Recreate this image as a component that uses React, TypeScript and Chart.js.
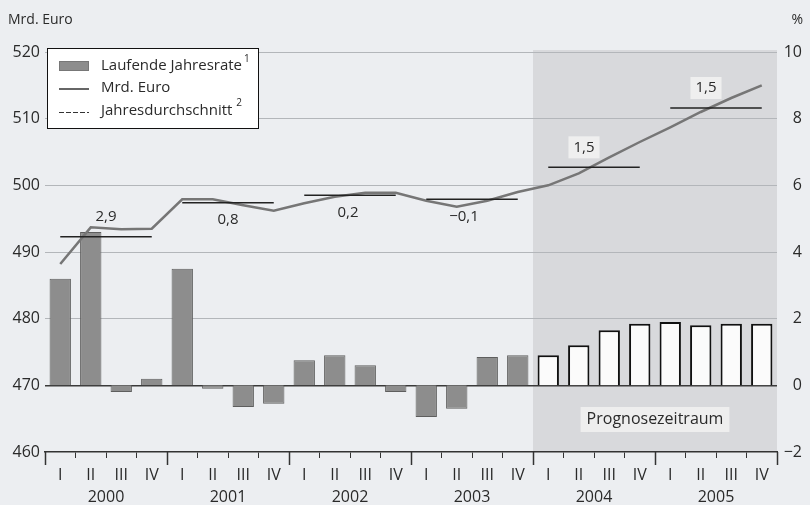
import React, { useEffect, useRef } from "react";
import { Chart, registerables } from "chart.js";

Chart.register(...registerables);

// ---------- data ----------
const quarterLabels = [
  "I", "II", "III", "IV",
  "I", "II", "III", "IV",
  "I", "II", "III", "IV",
  "I", "II", "III", "IV",
  "I", "II", "III", "IV",
  "I", "II", "III", "IV",
];
const yearLabels = ["2000", "2001", "2002", "2003", "2004", "2005"];

// Mrd. Euro (left axis)
const gdpLevel = [
  488.2, 493.7, 493.4, 493.5,
  497.9, 497.9, 497.0, 496.2,
  497.3, 498.3, 498.9, 498.9,
  497.7, 496.8, 497.7, 499.0,
  500.0, 501.8, 504.2, 506.5,
  508.7, 511.0, 513.1, 515.0,
];

// Laufende Jahresrate in % (right axis)
const annualRate = [
  3.2, 4.6, -0.2, 0.2,
  3.5, -0.1, -0.65, -0.55,
  0.75, 0.9, 0.6, -0.2,
  -0.95, -0.7, 0.85, 0.9,
  0.9, 1.2, 1.65, 1.85,
  1.9, 1.8, 1.85, 1.85,
];

// Jahresdurchschnitt (Mrd. Euro) and its growth labels
const annualAverage = [492.3, 497.4, 498.5, 497.9, 502.7, 511.6];
const annualGrowthLabels = ["2,9", "0,8", "0,2", "\u22120,1", "1,5", "1,5"];
const annualLabelSide = ["above", "below", "below", "below", "above", "above"];

const forecastStartIndex = 16;

const leftTicks = [460, 470, 480, 490, 500, 510, 520];
const rightTicks = [-2, 0, 2, 4, 6, 8, 10];

// ---------- styles ----------
const FONT = "'Open Sans', 'DejaVu Sans', sans-serif";
const TEXT = "#2a2a2a";
const BG = "#eceef1";
const SHADE = "#d8d9dc";
const labelDx = [0, 0, -2, -8, -10, -10];

const avgSeries = quarterLabels.map((_, i) => annualAverage[Math.floor(i / 4)]);

const decorPlugin = {
  id: "decor",
  beforeDraw(chart: any) {
    const { ctx, chartArea, scales } = chart;
    ctx.save();
    ctx.fillStyle = BG;
    ctx.fillRect(0, 0, chart.width, chart.height);
    const x = scales.x;
    const n = quarterLabels.length;
    const step = (x.right - x.left) / n;
    const fx = x.left + step * forecastStartIndex;
    ctx.fillStyle = SHADE;
    ctx.fillRect(fx, chartArea.top - 2, chartArea.right - fx, chartArea.bottom - chartArea.top + 2);
    ctx.restore();
  },
  afterDatasetsDraw(chart: any) {
    const { ctx, chartArea, scales } = chart;
    const x2 = scales.x2;
    const y = scales.y;
    ctx.save();
    // annual average labels
    ctx.font = `15px ${FONT}`;
    ctx.textAlign = "center";
    ctx.textBaseline = "middle";
    annualGrowthLabels.forEach((lbl, k) => {
      const px = x2.getPixelForValue(k) + labelDx[k];
      const py = y.getPixelForValue(annualAverage[k]) + (annualLabelSide[k] === "above" ? -20 : 17);
      if (k >= forecastStartIndex / 4) {
        const w = ctx.measureText(lbl).width + 10;
        ctx.fillStyle = "#efefef";
        ctx.fillRect(px - w / 2, py - 11, w, 22);
      }
      ctx.fillStyle = TEXT;
      ctx.fillText(lbl, px, py);
    });

    // Prognosezeitraum label
    const x = scales.x;
    const step = (x.right - x.left) / quarterLabels.length;
    const fx = x.left + step * forecastStartIndex;
    const cx = (fx + chartArea.right) / 2;
    const cy = chartArea.bottom - 33;
    ctx.font = `16px ${FONT}`;
    const tw = ctx.measureText("Prognosezeitraum").width + 12;
    ctx.fillStyle = "#eeeeee";
    ctx.fillRect(cx - tw / 2, cy - 12, tw, 25);
    ctx.fillStyle = TEXT;
    ctx.fillText("Prognosezeitraum", cx, cy);

    // legend
    const lx = chartArea.left + 2;
    const ly = chartArea.top - 4;
    ctx.fillStyle = "#ffffff";
    ctx.fillRect(lx, ly, 211, 80);
    ctx.strokeStyle = "#111";
    ctx.lineWidth = 1;
    ctx.strokeRect(lx + 0.5, ly + 0.5, 211, 80);
    ctx.fillStyle = "#8d8d8d";
    ctx.fillRect(lx + 12, ly + 13, 30, 10);
    ctx.strokeStyle = "#777";
    ctx.strokeRect(lx + 12.5, ly + 13.5, 29, 9);
    ctx.strokeStyle = "#666";
    ctx.lineWidth = 2;
    ctx.beginPath();
    ctx.moveTo(lx + 12, ly + 41);
    ctx.lineTo(lx + 42, ly + 41);
    ctx.stroke();
    ctx.strokeStyle = "#333";
    ctx.lineWidth = 1;
    ctx.setLineDash([5, 2]);
    ctx.beginPath();
    ctx.moveTo(lx + 12, ly + 64.5);
    ctx.lineTo(lx + 42, ly + 64.5);
    ctx.stroke();
    ctx.setLineDash([]);
    ctx.fillStyle = TEXT;
    ctx.textAlign = "left";
    ctx.font = `15px ${FONT}`;
    const t1 = "Laufende Jahresrate";
    const t3 = "Jahresdurchschnitt";
    ctx.fillText(t1, lx + 54, ly + 18);
    ctx.fillText("Mrd. Euro", lx + 54, ly + 40);
    ctx.fillText(t3, lx + 54, ly + 63);
    const w1 = ctx.measureText(t1).width;
    const w3 = ctx.measureText(t3).width;
    ctx.font = `10px ${FONT}`;
    ctx.fillText("1", lx + 56 + w1, ly + 11);
    ctx.fillText("2", lx + 58 + w3, ly + 55);

    // axis titles
    ctx.font = `14px ${FONT}`;
    ctx.textAlign = "left";
    ctx.fillText("Mrd. Euro", 8, 20);
    ctx.textAlign = "right";
    ctx.fillText("%", 803, 20);
    ctx.restore();
  },
  afterDraw(chart: any) {
    const { ctx, chartArea } = chart;
    ctx.save();
    ctx.strokeStyle = "#333";
    ctx.lineWidth = 1.5;
    for (let k = 0; k <= yearLabels.length; k++) {
      const px = Math.round(chartArea.left + ((chartArea.right - chartArea.left) * k) / yearLabels.length) + 0.5;
      ctx.beginPath();
      ctx.moveTo(px, chartArea.bottom);
      ctx.lineTo(px, chartArea.bottom + 13);
      ctx.stroke();
    }
    ctx.restore();
  },
};

export default function App() {
  const ref = useRef<HTMLCanvasElement | null>(null);

  useEffect(() => {
    if (!ref.current) return;
    const chart = new Chart(ref.current, {
      data: {
        labels: quarterLabels,
        datasets: [
          {
            type: "line",
            label: "Mrd. Euro",
            data: gdpLevel,
            yAxisID: "y",
            xAxisID: "x",
            borderColor: "#767676",
            borderWidth: 2.5,
            pointRadius: 0,
            tension: 0,
            order: 1,
          },
          {
            type: "line",
            label: "Jahresdurchschnitt",
            data: avgSeries,
            yAxisID: "y",
            xAxisID: "x",
            borderColor: "#222",
            borderWidth: 1.5,
            pointRadius: 0,
            tension: 0,
            order: 0,
            segment: {
              borderColor: (c: any) => (c.p0DataIndex % 4 === 3 ? "rgba(0,0,0,0)" : "#222"),
            },
          },
          {
            type: "bar",
            label: "Laufende Jahresrate",
            data: annualRate,
            yAxisID: "y1",
            xAxisID: "x",
            backgroundColor: annualRate.map((_, i) => (i >= forecastStartIndex ? "#fbfbfb" : "#8d8d8d")),
            borderColor: annualRate.map((_, i) => (i >= forecastStartIndex ? "#111" : "#5e5e5e")),
            borderWidth: annualRate.map((_, i) => (i >= forecastStartIndex ? 2 : 1)) as any,
            barPercentage: 0.7,
            categoryPercentage: 1,
            order: 3,
          },
        ] as any,
      },
      options: {
        responsive: false,
        animation: false,
        devicePixelRatio: 1,
        layout: { padding: { top: 52, left: 0, right: 8, bottom: 0 } },
        plugins: { legend: { display: false }, tooltip: { enabled: false } },
        scales: {
          x: {
            type: "category",
            position: "bottom",
            labels: quarterLabels,
            offset: true,
            grid: { offset: true, drawOnChartArea: false, tickLength: 6, color: "#333", tickColor: "#333" },
            border: { display: true, color: "#333", width: 1.5 },
            ticks: { font: { family: FONT, size: 16 }, color: TEXT, padding: 8, maxRotation: 0, autoSkip: false },
            afterFit: (s: any) => { s.height = 31; },
          },
          x2: {
            type: "category",
            position: "bottom",
            labels: yearLabels,
            offset: true,
            grid: { display: false, drawTicks: false },
            border: { display: false },
            ticks: { font: { family: FONT, size: 16 }, color: TEXT, padding: 5, maxRotation: 0, autoSkip: false },
            afterFit: (s: any) => { s.height = 22; },
          },
          y: {
            position: "left",
            min: 460,
            max: 520,
            afterBuildTicks: (s: any) => { s.ticks = leftTicks.map((v) => ({ value: v })); },
            grid: {
              drawTicks: false,
              color: (c: any) => (c.tick && c.tick.value === 470 ? "#3a3a3a" : c.tick && c.tick.value === 460 ? "rgba(0,0,0,0)" : "#b3b6ba"),
              lineWidth: (c: any) => (c.tick && c.tick.value === 470 ? 1.5 : 1),
            },
            border: { display: false },
            ticks: { font: { family: FONT, size: 16 }, color: TEXT, padding: 5 },
            afterFit: (s: any) => { s.width = 45; },
          },
          y1: {
            position: "right",
            min: -2,
            max: 10,
            afterBuildTicks: (s: any) => { s.ticks = rightTicks.map((v) => ({ value: v })); },
            grid: { display: false, drawTicks: false },
            border: { display: false },
            ticks: {
              font: { family: FONT, size: 16 },
              color: TEXT,
              padding: 0,
              crossAlign: "far",
              callback: (v: any) => (Number(v) < 0 ? "\u2212" + Math.abs(Number(v)) : String(v)),
            },
            afterFit: (s: any) => { s.width = 25; },
          },
        },
      } as any,
      plugins: [decorPlugin],
    });
    return () => chart.destroy();
  }, []);

  return (
    <div style={{ position: "absolute", left: 0, top: 0, width: 810, height: 505, background: BG }}>
      <canvas ref={ref} width={810} height={505} style={{ display: "block" }} />
    </div>
  );
}
